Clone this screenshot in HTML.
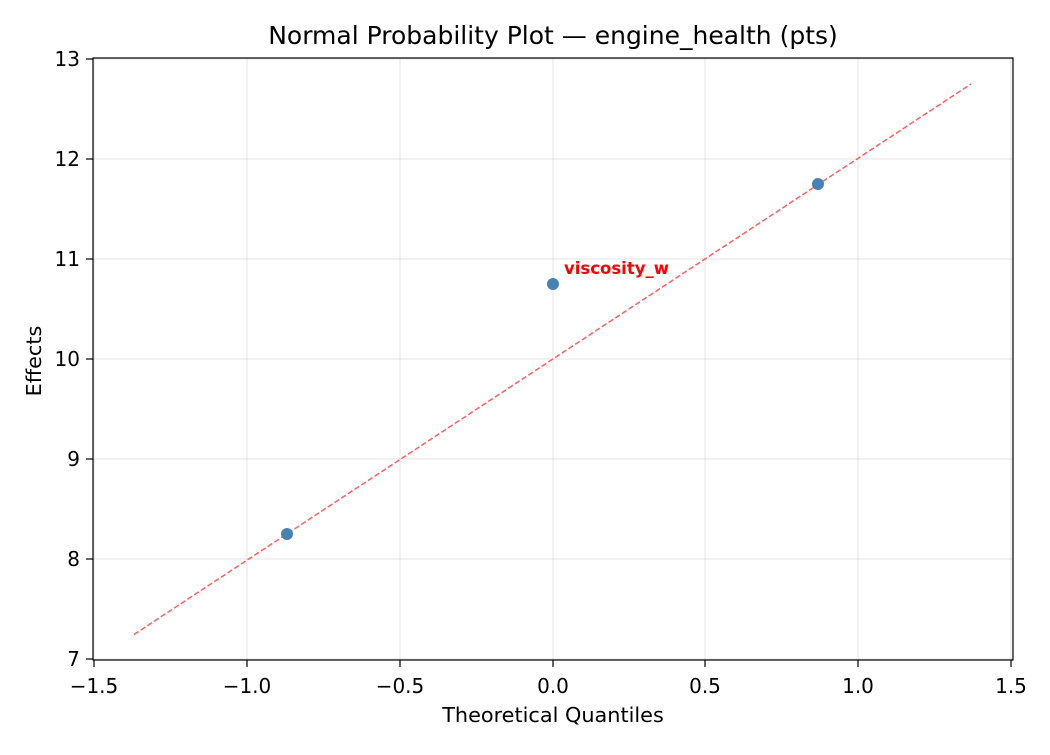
<!DOCTYPE html>
<html><head><meta charset="utf-8"><style>body{margin:0;background:#fff}</style></head><body>
<svg width="1050" height="750" xmlns="http://www.w3.org/2000/svg" font-family="DejaVu Sans, sans-serif">
<rect width="1050" height="750" fill="#fff"/>
<g stroke="#000" stroke-opacity="0.1" stroke-width="1">
<line x1="94" y1="58" x2="94" y2="660"/><line x1="247" y1="58" x2="247" y2="660"/><line x1="400" y1="58" x2="400" y2="660"/><line x1="553" y1="58" x2="553" y2="660"/><line x1="705" y1="58" x2="705" y2="660"/><line x1="858" y1="58" x2="858" y2="660"/><line x1="1011" y1="58" x2="1011" y2="660"/>
<line x1="93" y1="59" x2="1013" y2="59"/><line x1="93" y1="159" x2="1013" y2="159"/><line x1="93" y1="259" x2="1013" y2="259"/><line x1="93" y1="359" x2="1013" y2="359"/><line x1="93" y1="459" x2="1013" y2="459"/><line x1="93" y1="559" x2="1013" y2="559"/><line x1="93" y1="659" x2="1013" y2="659"/>
</g>
<line x1="134" y1="634.5" x2="971" y2="84" stroke="#ff6060" stroke-width="1.5" stroke-dasharray="5.5,2.5"/>
<g fill="#4682b4"><circle cx="287" cy="534" r="6"/><circle cx="553" cy="284" r="6"/><circle cx="818" cy="184" r="6"/></g>
<text x="564" y="274" font-size="16.5" font-weight="bold" fill="#ff0000">viscosity_w</text>
<rect x="93" y="58" width="920" height="602" fill="none" stroke="#000" stroke-width="1.2"/>
<g stroke="#000" stroke-width="1.2"><line x1="94" y1="660" x2="94" y2="667"/><line x1="247" y1="660" x2="247" y2="667"/><line x1="400" y1="660" x2="400" y2="667"/><line x1="553" y1="660" x2="553" y2="667"/><line x1="705" y1="660" x2="705" y2="667"/><line x1="858" y1="660" x2="858" y2="667"/><line x1="1011" y1="660" x2="1011" y2="667"/>
<line x1="86" y1="59" x2="93" y2="59"/><line x1="86" y1="159" x2="93" y2="159"/><line x1="86" y1="259" x2="93" y2="259"/><line x1="86" y1="359" x2="93" y2="359"/><line x1="86" y1="459" x2="93" y2="459"/><line x1="86" y1="559" x2="93" y2="559"/><line x1="86" y1="659" x2="93" y2="659"/></g>
<g font-size="20" text-anchor="middle"><text x="94" y="693">−1.5</text><text x="247" y="693">−1.0</text><text x="400" y="693">−0.5</text><text x="553" y="693">0.0</text><text x="705" y="693">0.5</text><text x="858" y="693">1.0</text><text x="1011" y="693">1.5</text></g>
<g font-size="20" text-anchor="end"><text x="80" y="66">13</text><text x="80" y="166">12</text><text x="80" y="266">11</text><text x="80" y="366">10</text><text x="80" y="466">9</text><text x="80" y="566">8</text><text x="80" y="666">7</text></g>
<text x="553" y="722" font-size="20.8" text-anchor="middle">Theoretical Quantiles</text>
<text transform="translate(41,361) rotate(-90)" font-size="20.8" text-anchor="middle">Effects</text>
<text x="553" y="44" font-size="25" text-anchor="middle">Normal Probability Plot — engine_health (pts)</text>
</svg>
</body></html>
